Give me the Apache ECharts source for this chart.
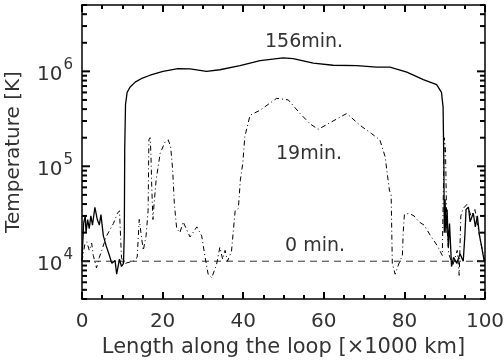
<!DOCTYPE html>
<html><head><meta charset="utf-8">
<script src="https://cdn.jsdelivr.net/npm/echarts@6/dist/echarts.min.js"></script>
<style>html,body{margin:0;padding:0;background:#fff}#c{width:504px;height:360px}</style>
</head><body><div id="c"></div>
<script>
// ---- data ----
const xTickLabels = ['0','20','40','60','80','100'];
const t0X = [0, 100];
const t0Y = [1e4, 1e4];

const t19X = [0, 0.7, 1.2, 1.8, 2.4, 2.8, 3.6, 4.3, 4.9, 6.1, 7.8, 8.8, 9.3, 9.6, 9.8, 10.3, 11.1, 12.7, 13.7, 14.2, 15.2, 15.9, 16.4, 16.6, 16.9, 17.1, 17.3, 17.6, 17.9, 18.4, 19.4, 20.6, 21.4, 22.0, 22.5, 22.9, 23.5, 24.3, 25.1, 26.8, 28.5, 29.7, 30.5, 31.3, 32.2, 33.4, 34.2, 34.9, 35.5, 36.1, 37.1, 38.0, 38.8, 39.3, 39.9, 40.4, 41.7, 44.2, 48.3, 51.2, 54.1, 56.6, 58.6, 62.0, 65.7, 69.0, 71.9, 73.9, 75.2, 76.3, 76.7, 77.0, 77.7, 78.7, 79.5, 79.7, 80.0, 81.1, 82.4, 83.6, 84.9, 86.5, 88.2, 89.4, 89.6, 89.9, 90.2, 90.5, 91.0, 92.0, 93.1, 93.6, 94.0, 94.6, 95.6, 96.5, 97.5, 98.5, 99.5, 100];
const t19Y = [1e4, 1.5e4, 1.6e4, 1.3e4, 1.55e4, 1.15e4, 8.5e3, 1.1e4, 1.3e4, 1.85e4, 2.5e4, 3.2e4, 3.4e4, 1.7e4, 1.1e4, 9.3e3, 9.6e3, 1.0e4, 1.1e4, 2.75e4, 1.3e4, 1.85e4, 3.4e4, 1.9e5, 2.0e5, 1.37e5, 6.2e4, 2.75e4, 4.1e4, 7.2e4, 1.37e5, 1.8e5, 1.9e5, 1.6e5, 9.2e4, 4.1e4, 2.2e4, 2.0e4, 2.6e4, 1.8e4, 2.3e4, 1.85e4, 1.13e4, 7.3e3, 6.7e3, 9.3e3, 1.4e4, 1.05e4, 1.3e4, 1.0e4, 1.28e4, 3.4e4, 3.6e4, 7.2e4, 1.08e5, 2.05e5, 3.45e5, 3.9e5, 5.2e5, 5.0e5, 3.6e5, 2.8e5, 2.45e5, 2.95e5, 3.6e5, 2.7e5, 2.2e5, 1.9e5, 1.27e5, 5.5e4, 5.2e4, 9.5e3, 7.3e3, 9.6e3, 1.15e4, 2.0e4, 3.1e4, 3.2e4, 3.0e4, 2.6e4, 2.4e4, 1.85e4, 1.45e4, 1.15e4, 1.2e4, 2.0e5, 1.5e5, 2.5e4, 1.2e4, 9e3, 1.3e4, 7.1e3, 3.0e4, 3.6e4, 4.0e4, 3.0e4, 3.5e4, 2.0e4, 1.2e4, 1e4];

const t156X = [0, 0.4, 0.8, 1.0, 1.4, 1.8, 2.2, 2.6, 3.2, 3.8, 4.3, 4.7, 5.3, 6.0, 6.8, 7.4, 8.2, 8.6, 9.3, 9.8, 10.3, 10.5, 10.6, 10.8, 11.2, 11.9, 13.2, 15, 16.9, 20.1, 23.8, 26.8, 30.9, 34.2, 39.2, 44.2, 49.9, 52.4, 57.4, 62.3, 68.2, 73.1, 76.4, 80.6, 84.7, 88, 89.2, 89.6, 89.8, 89.9, 90.1, 90.3, 90.6, 90.9, 91.2, 91.7, 92.2, 93, 93.8, 94.6, 95, 95.3, 95.9, 96.3, 97.1, 97.6, 98.1, 98.6, 99.2, 99.8, 100];
const t156Y = [1e4, 2.5e4, 3.0e4, 2.0e4, 2.75e4, 2.2e4, 3.0e4, 2.4e4, 3.7e4, 2.75e4, 2.4e4, 3.1e4, 1.85e4, 1.45e4, 1.15e4, 9.5e3, 1.02e4, 7.3e3, 1.05e4, 8.8e3, 9.5e3, 2e4, 1.5e5, 4.5e5, 6e5, 6.8e5, 7.7e5, 8.5e5, 9.1e5, 1.0e6, 1.07e6, 1.06e6, 1.0e6, 1.04e6, 1.15e6, 1.3e6, 1.39e6, 1.36e6, 1.22e6, 1.16e6, 1.15e6, 1.11e6, 1.11e6, 9.8e5, 8.2e5, 7.25e5, 6e5, 4.2e5, 1e5, 2e4, 4.5e4, 2.0e4, 3.5e4, 1.4e4, 2.5e4, 8.8e3, 1.1e4, 9.5e3, 1.2e4, 1.0e4, 1.85e4, 3.5e4, 3.7e4, 2.6e4, 3.2e4, 2.3e4, 3.0e4, 1.9e4, 1.4e4, 1.0e4, 1.0e4];

const seriesLabels = ['156min.', '19min.', '0 min.'];
const xTitle = 'Length along the loop [×1000 km]';
const yTitle = 'Temperature [K]';
const yMin = 4000, yMax = 5e6;
const yMantissas = [1,2,3,4,5,6,7,8,9];
const yDecades = [3,4,5,6];

// ---- build ----
const zip = (xs, ys) => xs.map((x, i) => [x, ys[i]]);
const yTicks = [];
yDecades.forEach(e => yMantissas.forEach(m => {
  const v = m * Math.pow(10, e);
  if (v >= yMin && v <= yMax) yTicks.push([0, v, m === 1 ? 1 : 0]);
}));

const FONT = 'DejaVu Sans';
const TXT = '#333';
const chart = echarts.init(document.getElementById('c'));
const axisLineStyle = {show: true, onZero: false, lineStyle: {color: '#000', width: 1.5}};
const xTick = {show: true, inside: true, length: 7, lineStyle: {color: '#000', width: 2}};
const xMinor = {show: true, splitNumber: 4, length: 4, lineStyle: {color: '#000', width: 2}};
function yTickSeries(side) {
  return {type: 'custom', data: yTicks, clip: false, encode: {x: 0, y: 1},
    renderItem: (params, api) => {
      const v = api.value(1);
      const len = api.value(2) === 1 ? 8 : 5;
      const p = api.coord([side === 'left' ? 0 : 100, v]);
      const x2 = side === 'left' ? p[0] + len : p[0] - len;
      return {type: 'line', shape: {x1: p[0], y1: p[1], x2: x2, y2: p[1]}, style: {stroke: '#000', lineWidth: 2}};
    }};
}
chart.setOption({
  animation: false,
  backgroundColor: '#fff',
  grid: {left: 82, right: 19, top: 5, bottom: 61, outerBoundsMode: 'none'},
  xAxis: [
    {
      type: 'value', min: 0, max: 100, interval: 20, position: 'bottom',
      axisLine: axisLineStyle, axisTick: xTick, minorTick: xMinor, splitLine: {show: false},
      name: xTitle, nameLocation: 'middle', nameGap: 38,
      nameTextStyle: {fontFamily: FONT, fontSize: 21, color: TXT},
      axisLabel: {margin: 13, fontFamily: FONT, fontSize: 20, color: TXT,
        formatter: v => xTickLabels[Math.round(v / 20)] || ''}
    },
    {type: 'value', min: 0, max: 100, interval: 20, position: 'top',
      axisLine: axisLineStyle, axisTick: xTick, minorTick: xMinor, axisLabel: {show: false}, splitLine: {show: false}}
  ],
  yAxis: [
    {
      type: 'log', logBase: 10, min: yMin, max: yMax, position: 'left',
      axisLine: axisLineStyle, axisTick: {show: false}, splitLine: {show: false},
      name: yTitle, nameLocation: 'middle', nameGap: 58,
      nameTextStyle: {fontFamily: FONT, fontSize: 20, color: TXT},
      axisLabel: {
        margin: 9, fontFamily: FONT, color: TXT,
        formatter: v => {
          const l = Math.log10(v);
          if (Math.abs(l - Math.round(l)) > 1e-6) return '';
          return '{b|10}{e|' + Math.round(l) + '}';
        },
        rich: {
          b: {fontFamily: FONT, fontSize: 20, color: TXT, verticalAlign: 'bottom'},
          e: {fontFamily: FONT, fontSize: 15, color: TXT, verticalAlign: 'top', padding: [0, 0, 12, 1]}
        }
      }
    },
    {type: 'log', logBase: 10, min: yMin, max: yMax, position: 'right',
      axisLine: axisLineStyle, axisTick: {show: false}, axisLabel: {show: false}, splitLine: {show: false}}
  ],
  series: [
    {type: 'line', name: seriesLabels[2], data: zip(t0X, t0Y), showSymbol: false,
      lineStyle: {color: '#333', width: 1, type: [7, 5]}},
    {type: 'line', name: seriesLabels[1], data: zip(t19X, t19Y), showSymbol: false,
      lineStyle: {color: '#000', width: 1, type: [5, 3, 1, 3]}},
    {type: 'line', name: seriesLabels[0], data: zip(t156X, t156Y), showSymbol: false,
      lineStyle: {color: '#000', width: 1.3}},
    yTickSeries('left'),
    yTickSeries('right')
  ],
  graphic: [
    {type: 'text', left: 265, top: 33, style: {text: seriesLabels[0], fontFamily: FONT, fontSize: 19, fill: TXT}},
    {type: 'text', left: 276, top: 145, style: {text: seriesLabels[1], fontFamily: FONT, fontSize: 19, fill: TXT}},
    {type: 'text', left: 285, top: 237, style: {text: seriesLabels[2], fontFamily: FONT, fontSize: 19, fill: TXT}}
  ]
});
</script></body></html>
